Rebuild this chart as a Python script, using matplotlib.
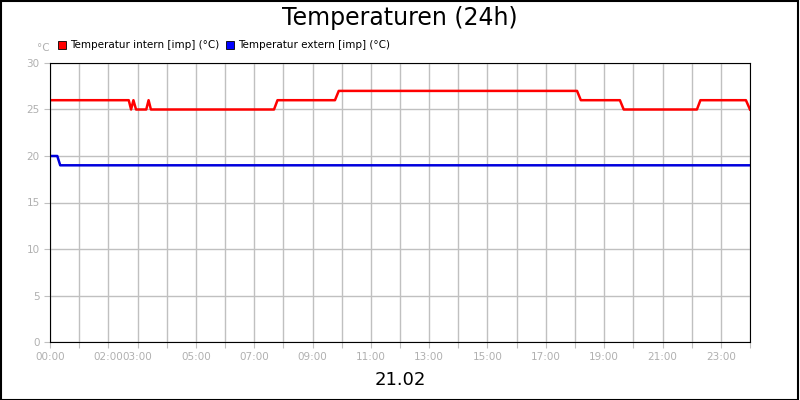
import matplotlib
matplotlib.use("Agg")
import matplotlib.pyplot as plt
from matplotlib.patches import Rectangle

intern_t = [0, 2.7, 2.78, 2.86, 2.95, 3.3, 3.38, 3.46, 7.68, 7.8, 9.77, 9.9, 18.07, 18.2, 19.54, 19.67, 22.18, 22.3, 23.86, 24.0]
intern_v = [26, 26, 25, 26, 25, 25, 26, 25, 25, 26, 26, 27, 27, 26, 26, 25, 25, 26, 26, 25]
extern_t = [0, 0.25, 0.35, 24.0]
extern_v = [20, 20, 19, 19]
tick_hours = [0, 2, 3, 5, 7, 9, 11, 13, 15, 17, 19, 21, 23]
tick_labels = ["%02d:00" % h for h in tick_hours]
yticks = [0, 5, 10, 15, 20, 25, 30]

fig = plt.figure(figsize=(8, 4), dpi=100)
fig.patches.append(Rectangle((0.001, 0.001), 0.997, 0.997, transform=fig.transFigure,
                             fill=False, edgecolor="black", linewidth=1.5))
ax = fig.add_axes([50/800, 1-342/400, 700/800, 279/400])
ax.plot(intern_t, intern_v, color="#ff0000", linewidth=1.8)
ax.plot(extern_t, extern_v, color="#0000dd", linewidth=1.8)
ax.set_xlim(0, 24)
ax.set_ylim(0, 30)
ax.grid(True, color="#c0c0c0", linewidth=1)
ax.set_xticks(range(25))
ax.set_xticklabels([tick_labels[tick_hours.index(h)] if h in tick_hours else "" for h in range(25)])
ax.set_yticks(yticks)
ax.tick_params(colors="#c0c0c0", labelcolor="#b0b0b0", labelsize=7.5, length=4)
for s in ax.spines.values():
    s.set_color("black")
ax.set_axisbelow(True)
fig.text(0.5, 1-18/400, "Temperaturen (24h)", ha="center", va="center", fontsize=17)
fig.text(0.5, 1-380/400, "21.02", ha="center", va="center", fontsize=13)
fig.text(37/800, 1-48/400, "°C", ha="left", va="center", fontsize=7.5, color="#b0b0b0")
fig.patches.append(Rectangle((58/800, 1-49/400), 8/800, 8/400, transform=fig.transFigure, facecolor="#ff0000", edgecolor="black", linewidth=0.6))
fig.text(70/800, 1-45/400, "Temperatur intern [imp] (°C)", ha="left", va="center", fontsize=7.5)
fig.patches.append(Rectangle((226/800, 1-49/400), 8/800, 8/400, transform=fig.transFigure, facecolor="#0000ff", edgecolor="black", linewidth=0.6))
fig.text(238/800, 1-45/400, "Temperatur extern [imp] (°C)", ha="left", va="center", fontsize=7.5)
fig.savefig("out.png", dpi=100)
